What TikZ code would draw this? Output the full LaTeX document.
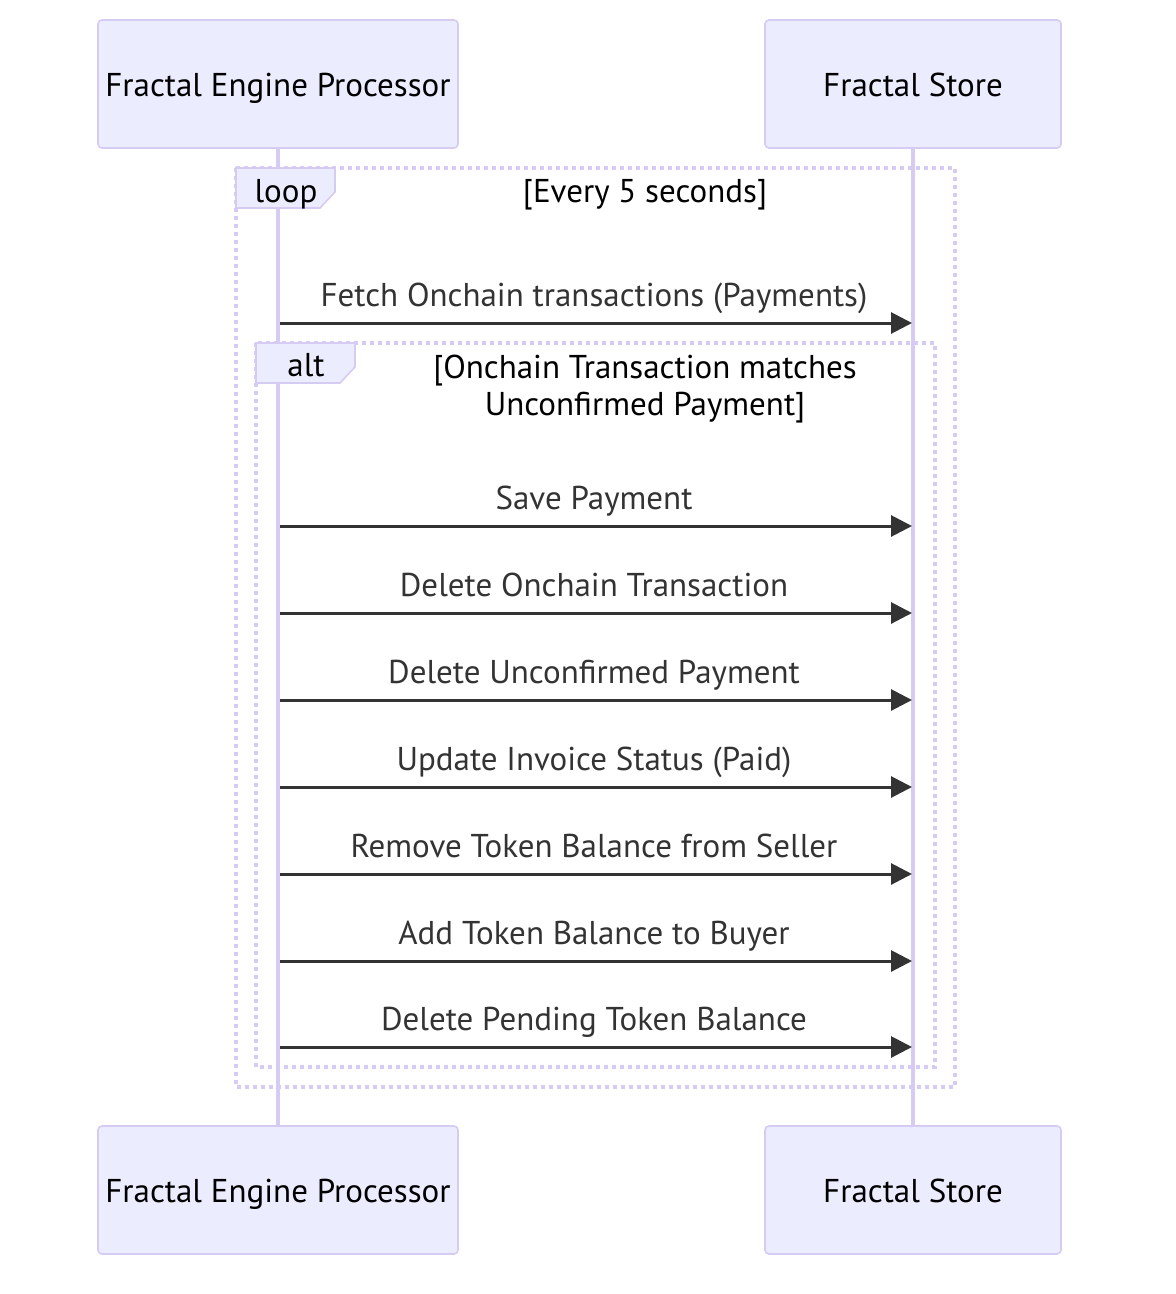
\documentclass[tikz,border=0pt]{standalone}
\usepackage{fontspec}
\setmainfont{PT Sans}
\usetikzlibrary{arrows.meta}
\definecolor{actorfill}{HTML}{ECECFF}
\definecolor{actorline}{HTML}{D6CBF2}
\definecolor{boxline}{HTML}{D6CBF2}
\definecolor{msgcol}{HTML}{333333}
\tikzset{
  actorbox/.style={draw=actorline, line width=1.6pt, fill=actorfill, rounded corners=4pt},
  actortext/.style={anchor=base, text=black, inner sep=0pt, font=\fontsize{33}{38}\selectfont},
  lifeline/.style={draw=actorline, line width=3.6pt},
  framebox/.style={draw=boxline, line width=3.6pt, dash pattern=on 3.8pt off 4.2pt},
  tabbox/.style={draw=boxline, line width=1.6pt, fill=actorfill},
  labeltext/.style={anchor=base, text=black, inner sep=0pt, font=\fontsize{33}{38}\selectfont},
  msgtext/.style={anchor=base, text=msgcol, inner sep=0pt, font=\fontsize{33}{38}\selectfont},
  msgline/.style={draw=msgcol, line width=3pt, -{Triangle[length=21pt,width=21pt]}},
}
\begin{document}
\begin{tikzpicture}[x=1pt,y=-1pt]
\useasboundingbox (0,0) rectangle (1176,1294);
% actors
\draw[actorbox] (98,20) rectangle (458,148);
\draw[actorbox] (765,20) rectangle (1061,148);
\draw[actorbox] (98,1126) rectangle (458,1254);
\draw[actorbox] (765,1126) rectangle (1061,1254);
\node[actortext] (a1) at (278,96.5) {Fractal Engine Processor};
\node[actortext] (a2) at (913,96.5) {Fractal Store};
\node[actortext] (b1) at (278,1202.5) {Fractal Engine Processor};
\node[actortext] (b2) at (913,1202.5) {Fractal Store};
\coordinate (l1t) at (278,148); \coordinate (l1b) at (278,1126);
\coordinate (l2t) at (913,148); \coordinate (l2b) at (913,1126);
\draw[lifeline] (l1t) -- (l1b);
\draw[lifeline] (l2t) -- (l2b);
% loop frame
\draw[framebox] (236,168) rectangle (955,1087);
\draw[tabbox] (236,168) -- (335,168) -- (335,192) -- (320,208) -- (236,208) -- cycle;
\node[labeltext] (looplbl) at (286,202) {loop};
\node[labeltext] (loopcond) at (645,202) {[Every 5 seconds]};
% alt frame
\draw[framebox] (256,343) rectangle (935,1067);
\draw[tabbox] (256,343) -- (355,343) -- (355,367) -- (340,383) -- (256,383) -- cycle;
\node[labeltext] (altlbl) at (306,376) {alt};
\node[labeltext] (altc1) at (645,378) {[Onchain Transaction matches};
\node[labeltext] (altc2) at (645,415) {Unconfirmed Payment]};
% messages
\foreach \y/\t [count=\i] in {
  323/{Fetch Onchain transactions (Payments)},
  526/{Save Payment},
  613/{Delete Onchain Transaction},
  700/{Delete Unconfirmed Payment},
  787/{Update Invoice Status (Paid)},
  874/{Remove Token Balance from Seller},
  961/{Add Token Balance to Buyer},
  1047/{Delete Pending Token Balance}} {
  \coordinate (s\i) at (280,\y);
  \coordinate (e\i) at (912,\y);
  \node[msgtext] (m\i) at (594,\y-17) {\t};
  \draw[msgline] (s\i) -- (e\i);
}
\end{tikzpicture}
\end{document}
